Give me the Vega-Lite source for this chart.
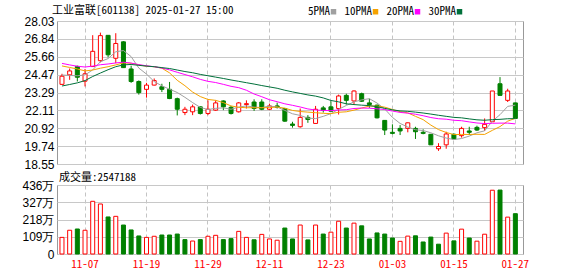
{
"$schema": "https://vega.github.io/schema/vega-lite/v6.json",
"background": "white",
"padding": {"left": 21, "top": 4, "right": 0, "bottom": 0},
"spacing": 0,
"config": {
  "view": {"stroke": "#999999", "strokeWidth": 1},
  "axisX": {"domain": false, "ticks": false, "gridColor": "#c4c4c4", "gridDash": [4, 3], "title": null, "labelAngle": 0, "bandPosition": 0.5, "labelOverlap": false},
  "axisY": {"domain": false, "ticks": false, "gridColor": "#c8c8c8", "labelPadding": 3, "labelFont": "Liberation Sans", "labelFontSize": 12, "labelColor": "#000000", "labelFlush": false, "labelBaseline": "middle", "labelOverlap": false, "title": null},
  "title": {"anchor": "start", "frame": "group", "font": "Noto Sans Mono CJK SC", "fontSize": 11, "fontWeight": "normal", "color": "#000000", "baseline": "bottom"}
},
"datasets": {
  "k": [
    {"d":"11-04","o":23.83,"h":24.53,"l":23.80,"c":24.37,"v":1050000,"vd":"up","5PMA":24.45,"10PMA":25.05,"20PMA":25.22,"30PMA":23.72},
    {"d":"11-05","o":24.46,"h":24.88,"l":24.13,"c":24.72,"v":1500000,"vd":"up","5PMA":24.42,"10PMA":24.95,"20PMA":25.12,"30PMA":23.82},
    {"d":"11-06","o":25.02,"h":25.07,"l":24.02,"c":24.30,"v":1580000,"vd":"down","5PMA":24.40,"10PMA":24.85,"20PMA":25.03,"30PMA":23.93},
    {"d":"11-07","o":24.04,"h":24.85,"l":23.69,"c":24.53,"v":1500000,"vd":"up","5PMA":24.45,"10PMA":24.72,"20PMA":24.98,"30PMA":24.08},
    {"d":"11-08","o":25.01,"h":27.09,"l":24.98,"c":26.02,"v":3330000,"vd":"up","5PMA":24.79,"10PMA":24.78,"20PMA":25.04,"30PMA":24.35},
    {"d":"11-11","o":25.40,"h":27.26,"l":25.29,"c":27.06,"v":3160000,"vd":"up","5PMA":25.33,"10PMA":24.90,"20PMA":25.13,"30PMA":24.58},
    {"d":"11-12","o":27.08,"h":27.10,"l":25.62,"c":25.79,"v":2340000,"vd":"down","5PMA":25.54,"10PMA":25.00,"20PMA":25.18,"30PMA":24.80},
    {"d":"11-13","o":25.56,"h":27.22,"l":25.23,"c":26.54,"v":2380000,"vd":"up","5PMA":25.99,"10PMA":25.12,"20PMA":25.25,"30PMA":25.00},
    {"d":"11-14","o":26.65,"h":26.69,"l":24.92,"c":24.94,"v":1830000,"vd":"down","5PMA":26.07,"10PMA":25.25,"20PMA":25.30,"30PMA":25.12},
    {"d":"11-15","o":24.85,"h":25.07,"l":23.93,"c":24.02,"v":1520000,"vd":"down","5PMA":25.67,"10PMA":25.23,"20PMA":25.24,"30PMA":25.15},
    {"d":"11-18","o":24.02,"h":24.09,"l":23.15,"c":23.28,"v":1140000,"vd":"down","5PMA":24.91,"10PMA":25.12,"20PMA":25.14,"30PMA":25.09},
    {"d":"11-19","o":23.50,"h":23.93,"l":22.95,"c":23.78,"v":1050000,"vd":"up","5PMA":24.51,"10PMA":25.03,"20PMA":25.06,"30PMA":25.04},
    {"d":"11-20","o":23.78,"h":24.22,"l":23.76,"c":24.08,"v":1120000,"vd":"up","5PMA":24.02,"10PMA":25.00,"20PMA":25.00,"30PMA":25.00},
    {"d":"11-21","o":23.67,"h":23.87,"l":23.32,"c":23.50,"v":1200000,"vd":"down","5PMA":23.73,"10PMA":24.90,"20PMA":24.91,"30PMA":24.94},
    {"d":"11-22","o":23.50,"h":23.99,"l":22.85,"c":22.89,"v":1200000,"vd":"down","5PMA":23.51,"10PMA":24.59,"20PMA":24.79,"30PMA":24.88},
    {"d":"11-25","o":22.88,"h":22.95,"l":21.77,"c":22.18,"v":1260000,"vd":"down","5PMA":23.29,"10PMA":24.10,"20PMA":24.63,"30PMA":24.78},
    {"d":"11-26","o":21.96,"h":22.34,"l":21.79,"c":22.18,"v":910000,"vd":"down","5PMA":22.97,"10PMA":23.74,"20PMA":24.48,"30PMA":24.68},
    {"d":"11-27","o":22.01,"h":22.49,"l":21.79,"c":22.34,"v":820000,"vd":"up","5PMA":22.62,"10PMA":23.32,"20PMA":24.33,"30PMA":24.60},
    {"d":"11-28","o":22.34,"h":22.36,"l":21.83,"c":21.90,"v":910000,"vd":"down","5PMA":22.30,"10PMA":23.02,"20PMA":24.16,"30PMA":24.49},
    {"d":"11-29","o":21.90,"h":22.77,"l":21.79,"c":22.18,"v":1120000,"vd":"up","5PMA":22.16,"10PMA":22.83,"20PMA":24.03,"30PMA":24.40},
    {"d":"12-02","o":22.12,"h":22.77,"l":22.07,"c":22.60,"v":1180000,"vd":"up","5PMA":22.24,"10PMA":22.77,"20PMA":23.95,"30PMA":24.31},
    {"d":"12-03","o":22.73,"h":22.77,"l":22.12,"c":22.34,"v":910000,"vd":"down","5PMA":22.27,"10PMA":22.62,"20PMA":23.83,"30PMA":24.22},
    {"d":"12-04","o":22.31,"h":22.40,"l":21.83,"c":21.90,"v":970000,"vd":"down","5PMA":22.18,"10PMA":22.40,"20PMA":23.70,"30PMA":24.12},
    {"d":"12-05","o":22.01,"h":22.66,"l":21.96,"c":22.60,"v":1430000,"vd":"up","5PMA":22.32,"10PMA":22.31,"20PMA":23.61,"30PMA":24.03},
    {"d":"12-06","o":22.49,"h":22.77,"l":22.23,"c":22.55,"v":1050000,"vd":"up","5PMA":22.40,"10PMA":22.28,"20PMA":23.44,"30PMA":23.94},
    {"d":"12-09","o":22.66,"h":22.84,"l":22.07,"c":22.23,"v":900000,"vd":"down","5PMA":22.32,"10PMA":22.28,"20PMA":23.19,"30PMA":23.85},
    {"d":"12-10","o":22.66,"h":22.84,"l":22.12,"c":22.18,"v":1240000,"vd":"up","5PMA":22.29,"10PMA":22.28,"20PMA":23.01,"30PMA":23.75},
    {"d":"12-11","o":22.18,"h":22.55,"l":22.12,"c":22.40,"v":950000,"vd":"up","5PMA":22.39,"10PMA":22.29,"20PMA":22.81,"30PMA":23.66},
    {"d":"12-12","o":22.40,"h":22.62,"l":22.23,"c":22.31,"v":870000,"vd":"up","5PMA":22.33,"10PMA":22.33,"20PMA":22.68,"30PMA":23.57},
    {"d":"12-13","o":22.23,"h":22.27,"l":21.35,"c":21.39,"v":1640000,"vd":"down","5PMA":22.10,"10PMA":22.25,"20PMA":22.54,"30PMA":23.44},
    {"d":"12-16","o":21.20,"h":21.35,"l":20.96,"c":21.11,"v":950000,"vd":"down","5PMA":21.88,"10PMA":22.10,"20PMA":22.44,"30PMA":23.33},
    {"d":"12-17","o":21.02,"h":22.23,"l":20.96,"c":21.64,"v":1830000,"vd":"up","5PMA":21.77,"10PMA":22.03,"20PMA":22.33,"30PMA":23.23},
    {"d":"12-18","o":21.64,"h":21.79,"l":21.28,"c":21.50,"v":890000,"vd":"down","5PMA":21.59,"10PMA":21.99,"20PMA":22.20,"30PMA":23.13},
    {"d":"12-19","o":21.24,"h":22.40,"l":21.24,"c":22.18,"v":1830000,"vd":"up","5PMA":21.56,"10PMA":21.95,"20PMA":22.13,"30PMA":23.05},
    {"d":"12-20","o":22.27,"h":22.40,"l":21.96,"c":22.10,"v":1260000,"vd":"down","5PMA":21.71,"10PMA":21.91,"20PMA":22.10,"30PMA":22.93},
    {"d":"12-23","o":22.34,"h":22.71,"l":22.01,"c":22.05,"v":1380000,"vd":"up","5PMA":21.89,"10PMA":21.89,"20PMA":22.09,"30PMA":22.76},
    {"d":"12-24","o":22.23,"h":23.15,"l":21.83,"c":23.06,"v":2070000,"vd":"up","5PMA":22.18,"10PMA":21.98,"20PMA":22.13,"30PMA":22.67},
    {"d":"12-25","o":23.10,"h":23.21,"l":22.49,"c":22.77,"v":1640000,"vd":"down","5PMA":22.43,"10PMA":22.01,"20PMA":22.15,"30PMA":22.54},
    {"d":"12-26","o":22.73,"h":23.43,"l":22.49,"c":23.39,"v":1950000,"vd":"up","5PMA":22.67,"10PMA":22.12,"20PMA":22.23,"30PMA":22.49},
    {"d":"12-27","o":23.21,"h":23.28,"l":22.66,"c":22.71,"v":1780000,"vd":"down","5PMA":22.80,"10PMA":22.26,"20PMA":22.26,"30PMA":22.45},
    {"d":"12-30","o":22.60,"h":22.88,"l":22.27,"c":22.49,"v":950000,"vd":"down","5PMA":22.88,"10PMA":22.39,"20PMA":22.25,"30PMA":22.42},
    {"d":"12-31","o":22.45,"h":22.49,"l":21.57,"c":21.61,"v":1330000,"vd":"down","5PMA":22.59,"10PMA":22.39,"20PMA":22.21,"30PMA":22.35},
    {"d":"01-02","o":21.44,"h":21.46,"l":20.47,"c":20.80,"v":1260000,"vd":"down","5PMA":22.20,"10PMA":22.32,"20PMA":22.16,"30PMA":22.24},
    {"d":"01-03","o":20.65,"h":21.18,"l":20.52,"c":20.58,"v":1010000,"vd":"down","5PMA":21.64,"10PMA":22.16,"20PMA":22.06,"30PMA":22.14},
    {"d":"01-06","o":20.91,"h":21.13,"l":20.47,"c":20.74,"v":800000,"vd":"up","5PMA":21.24,"10PMA":22.02,"20PMA":21.97,"30PMA":22.07},
    {"d":"01-07","o":20.91,"h":21.30,"l":20.65,"c":21.28,"v":1130000,"vd":"up","5PMA":21.00,"10PMA":21.94,"20PMA":21.92,"30PMA":22.04},
    {"d":"01-08","o":20.91,"h":21.02,"l":20.21,"c":20.69,"v":1150000,"vd":"down","5PMA":20.82,"10PMA":21.71,"20PMA":21.85,"30PMA":21.99},
    {"d":"01-09","o":20.65,"h":20.85,"l":20.52,"c":20.58,"v":760000,"vd":"down","5PMA":20.77,"10PMA":21.49,"20PMA":21.75,"30PMA":21.93},
    {"d":"01-10","o":20.52,"h":20.54,"l":19.82,"c":19.82,"v":1070000,"vd":"down","5PMA":20.62,"10PMA":21.13,"20PMA":21.63,"30PMA":21.86},
    {"d":"01-13","o":19.56,"h":19.93,"l":19.42,"c":19.71,"v":620000,"vd":"down","5PMA":20.42,"10PMA":20.83,"20PMA":21.55,"30PMA":21.78},
    {"d":"01-14","o":19.82,"h":20.69,"l":19.56,"c":20.54,"v":1320000,"vd":"up","5PMA":20.27,"10PMA":20.64,"20PMA":21.52,"30PMA":21.71},
    {"d":"01-15","o":20.52,"h":20.58,"l":20.21,"c":20.21,"v":830000,"vd":"down","5PMA":20.17,"10PMA":20.50,"20PMA":21.45,"30PMA":21.64},
    {"d":"01-16","o":20.43,"h":21.02,"l":20.30,"c":20.91,"v":1570000,"vd":"up","5PMA":20.24,"10PMA":20.51,"20PMA":21.42,"30PMA":21.61},
    {"d":"01-17","o":20.74,"h":21.02,"l":20.47,"c":20.65,"v":1010000,"vd":"down","5PMA":20.40,"10PMA":20.51,"20PMA":21.34,"30PMA":21.54},
    {"d":"01-20","o":20.98,"h":21.09,"l":20.74,"c":20.80,"v":810000,"vd":"up","5PMA":20.62,"10PMA":20.52,"20PMA":21.27,"30PMA":21.48},
    {"d":"01-21","o":20.96,"h":21.57,"l":20.74,"c":21.18,"v":1250000,"vd":"up","5PMA":20.75,"10PMA":20.51,"20PMA":21.23,"30PMA":21.45},
    {"d":"01-22","o":21.35,"h":23.39,"l":21.35,"c":23.39,"v":4030000,"vd":"up","5PMA":21.39,"10PMA":20.78,"20PMA":21.25,"30PMA":21.49},
    {"d":"01-23","o":23.87,"h":24.31,"l":23.10,"c":23.10,"v":4040000,"vd":"down","5PMA":21.82,"10PMA":21.03,"20PMA":21.26,"30PMA":21.51},
    {"d":"01-24","o":22.77,"h":23.54,"l":22.66,"c":23.39,"v":2330000,"vd":"up","5PMA":22.37,"10PMA":21.39,"20PMA":21.26,"30PMA":21.55},
    {"d":"01-27","o":22.60,"h":22.62,"l":21.57,"c":21.57,"v":2547188,"vd":"down","5PMA":22.45,"10PMA":21.58,"20PMA":21.21,"30PMA":21.56}
  ]
},
"vconcat": [
  {
    "width": 466,
    "height": 143,
    "title": {"text": "工业富联[601138] 2025-01-27 15:00", "dx": -5, "offset": -1},
    "data": {"name": "k"},
    "encoding": {
      "x": {"field": "d", "type": "ordinal", "sort": null,
        "scale": {"paddingInner": 0, "paddingOuter": 0.32, "align": 0.23},
        "axis": {"values": ["11-07","11-19","11-29","12-11","12-23","01-03","01-15","01-27"], "labels": false, "grid": true}}
    },
    "layer": [
      {
        "mark": {"type": "rule", "strokeWidth": 1},
        "encoding": {
          "y": {"field": "l", "type": "quantitative", "scale": {"domain": [18.55, 28.03], "nice": false, "zero": false},
            "axis": {"values": [18.55, 19.74, 20.92, 22.11, 23.29, 24.47, 25.66, 26.84, 28.03], "format": ".2f", "grid": true, "labelOverlap": false}},
          "y2": {"field": "h"},
          "color": {"condition": {"test": "datum.c >= datum.o", "value": "#ff0000"}, "value": "#008000"}
        }
      },
      {
        "mark": {"type": "bar", "width": 4, "strokeWidth": 1},
        "encoding": {
          "y": {"field": "o", "type": "quantitative",
            "axis": {"values": [18.55, 19.74, 20.92, 22.11, 23.29, 24.47, 25.66, 26.84, 28.03], "format": ".2f", "grid": true, "labelOverlap": false}},
          "y2": {"field": "c"},
          "fill": {"condition": {"test": "datum.c >= datum.o", "value": "#ffffff"}, "value": "#008000"},
          "stroke": {"condition": {"test": "datum.c >= datum.o", "value": "#ff0000"}, "value": "#008000"}
        }
      },
      {
        "transform": [{"fold": ["5PMA", "10PMA", "20PMA", "30PMA"], "as": ["k", "val"]}],
        "mark": {"type": "line", "strokeWidth": 1, "interpolate": "linear"},
        "encoding": {
          "y": {"field": "val", "type": "quantitative",
            "axis": {"values": [18.55, 19.74, 20.92, 22.11, 23.29, 24.47, 25.66, 26.84, 28.03], "format": ".2f", "grid": true, "labelOverlap": false}},
          "color": {"field": "k", "type": "nominal",
            "scale": {"domain": ["5PMA", "10PMA", "20PMA", "30PMA"], "range": ["#a0a0a0", "#f5a200", "#ff00ff", "#00703a"]},
            "legend": {"orient": "none", "legendX": 271, "legendY": -15, "direction": "horizontal", "title": null,
              "symbolType": "square", "symbolSize": 30, "symbolStrokeWidth": 0,
              "labelFont": "Noto Sans Mono CJK SC", "labelFontSize": 11, "labelColor": "#000000",
              "labelAlign": "right", "labelOffset": -9, "columnPadding": 7,
              "encode": {"symbols": {"update": {"fill": {"scale": "color", "field": "value"}, "stroke": {"value": "transparent"}}}}}
          }
        }
      }
    ]
  },
  {
    "width": 466,
    "height": 69,
    "title": {"text": "成交量:2547188", "dx": 2, "offset": -4},
    "data": {"name": "k"},
    "mark": {"type": "bar", "width": 4, "strokeWidth": 1},
    "encoding": {
      "x": {"field": "d", "type": "ordinal", "sort": null,
        "scale": {"paddingInner": 0, "paddingOuter": 0.32, "align": 0.23},
        "axis": {"values": ["11-07","11-19","11-29","12-11","12-23","01-03","01-15","01-27"], "grid": true, "labelColor": "#ff0000", "labelFont": "Noto Sans Mono CJK SC", "labelFontSize": 11, "labelPadding": 4}},
      "y": {"field": "v", "type": "quantitative", "scale": {"domain": [0, 4360000], "nice": false},
        "axis": {"values": [0, 1090000, 2180000, 3270000, 4360000], "labelExpr": "datum.value == 0 ? '0' : format(datum.value / 10000, 'd') + '万'", "grid": true}},
      "fill": {"condition": {"test": "datum.vd == 'up'", "value": "#ffffff"}, "value": "#008000"},
      "stroke": {"condition": {"test": "datum.vd == 'up'", "value": "#ff0000"}, "value": "#008000"}
    }
  }
]
}
